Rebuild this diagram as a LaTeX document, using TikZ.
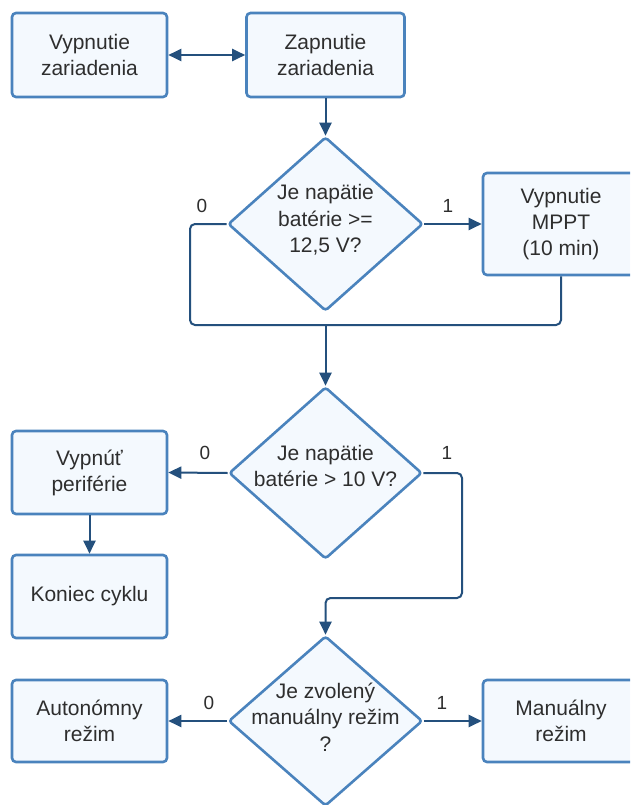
\documentclass[tikz,border=0pt]{standalone}
\usepackage{fontspec}
\setmainfont{Liberation Sans}
\usetikzlibrary{shapes.geometric,arrows.meta}
\definecolor{bfill}{HTML}{F4F9FE}
\definecolor{bdraw}{HTML}{4A83BD}
\definecolor{conn}{HTML}{24507D}
\definecolor{txtc}{HTML}{2E2E2E}
\begin{document}
\begin{tikzpicture}[x=1pt,y=-1pt,
  box/.style={draw=bdraw, fill=bfill, line width=2.6pt, rounded corners=4pt, inner sep=0pt,
    align=center, text=txtc, font=\fontsize{21}{26}\selectfont},
  dia/.style={diamond, draw=bdraw, fill=bfill, line width=2.6pt, rounded corners=3pt, inner sep=0pt},
  dtxt/.style={align=center, text=txtc, font=\fontsize{21}{26.5}\selectfont, inner sep=0pt},
  lbl/.style={text=txtc, font=\fontsize{19}{22}\selectfont, inner sep=0pt},
  connline/.style={draw=conn, line width=2pt, rounded corners=5pt},
  arr/.style={connline, -{Triangle[length=13pt,width=12pt]}},
  darr/.style={connline, {Triangle[length=13pt,width=12pt]}-{Triangle[length=13pt,width=12pt]}}
]
\useasboundingbox (0,0) rectangle (630,805);
\clip (0,0) rectangle (630,805);
\fill[white] (0,0) rectangle (630,805);

% nodes
\node[box, minimum width=155pt, minimum height=84pt] (v1) at (89.5,55) {Vypnutie\\zariadenia};
\node[box, minimum width=158pt, minimum height=84pt] (z1) at (325.5,55) {Zapnutie\\zariadenia};

\node[dia, minimum width=195pt, minimum height=174pt] (d1) at (325.5,224) {};
\node[dtxt] (t1) at (325.5,220) {Je napätie\\batérie >=\\12,5 V?};
\node[box, minimum width=156pt, minimum height=102pt] (mp) at (561,224) {Vypnutie\\MPPT\\(10 min)};

\node[dia, minimum width=193pt, minimum height=172pt] (d2) at (325.5,473) {};
\node[dtxt] (t2) at (325.5,466) {Je napätie\\batérie > 10 V?};
\node[box, minimum width=155pt, minimum height=83pt] (vp) at (89.5,472.5) {Vypnúť\\periférie};
\node[box, minimum width=155pt, minimum height=83pt] (ko) at (89.5,596.5) {Koniec cyklu};

\node[dia, minimum width=194pt, minimum height=170pt] (d3) at (325.5,721) {};
\node[dtxt] (t3) at (325.5,717) {Je zvolený\\manuálny režim\\?};
\node[box, minimum width=155pt, minimum height=82pt] (au) at (89.5,721) {Autonómny\\režim};
\node[box, minimum width=156pt, minimum height=82pt] (ma) at (561,721) {Manuálny\\režim};

% labels
\node[lbl] (l0a) at (202,206) {0};
\node[lbl] (l1a) at (448,206) {1};
\node[lbl] (l0b) at (205,453) {0};
\node[lbl] (l1b) at (447,453) {1};
\node[lbl] (l0c) at (209,703) {0};
\node[lbl] (l1c) at (442,703) {1};

% helper coordinates
\coordinate (jL) at (190,325);
\coordinate (jR) at (561,325);
\coordinate (jM) at (325.5,325);
\coordinate (k1) at (462,598);

% connectors
\draw[darr] (v1.east) -- (z1.west);
\draw[arr] (z1.south) -- (d1.north);
\draw[arr] (d1.east) -- (mp.west);
\draw[connline] (d1.west) -| (jL) -- (jR) -- (mp.south);
\draw[arr] (jM) -- (d2.north);
\draw[arr] (d2.west) -- (vp.east);
\draw[arr] (vp.south) -- (ko.north);
\draw[arr] (d2.east) -| (k1) -| (d3.north);
\draw[arr] (d3.west) -- (au.east);
\draw[arr] (d3.east) -- (ma.west);
\end{tikzpicture}
\end{document}
